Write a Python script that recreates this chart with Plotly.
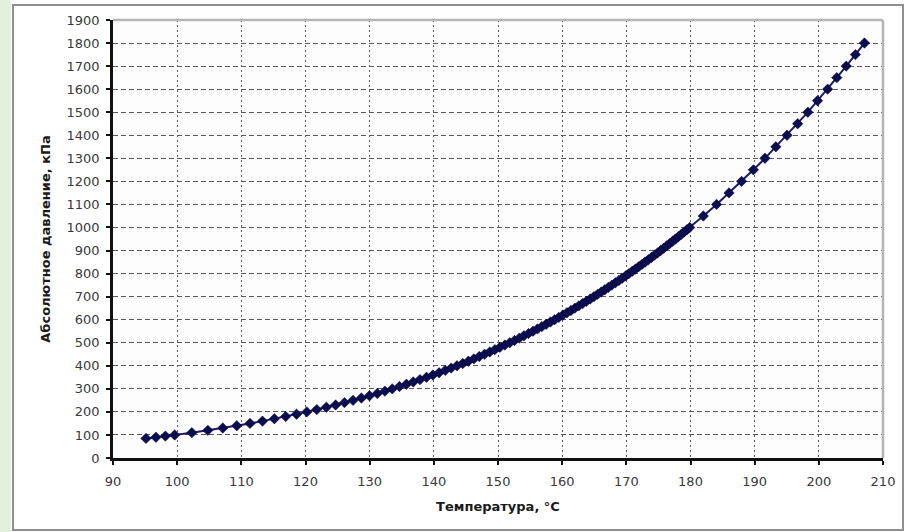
import plotly.graph_objects as go

# Saturated steam: absolute pressure (kPa) vs temperature (°C)
pressure_kpa = [85, 90, 95, 100,
                110, 120, 130, 140, 150, 160, 170, 180, 190, 200,
                210, 220, 230, 240, 250, 260, 270, 280, 290, 300,
                310, 320, 330, 340, 350, 360, 370, 380, 390, 400,
                410, 420, 430, 440, 450, 460, 470, 480, 490, 500,
                510, 520, 530, 540, 550, 560, 570, 580, 590, 600,
                610, 620, 630, 640, 650, 660, 670, 680, 690, 700,
                710, 720, 730, 740, 750, 760, 770, 780, 790, 800,
                810, 820, 830, 840, 850, 860, 870, 880, 890, 900,
                910, 920, 930, 940, 950, 960, 970, 980, 990, 1000,
                1050, 1100, 1150, 1200, 1250, 1300, 1350, 1400, 1450, 1500,
                1550, 1600, 1650, 1700, 1750, 1800]

temperature_c = [95.14, 96.69, 98.17, 99.61,
                 102.29, 104.78, 107.11, 109.29, 111.35, 113.30, 115.15, 116.91, 118.60, 120.21,
                 121.76, 123.25, 124.69, 126.07, 127.41, 128.71, 129.97, 131.19, 132.37, 133.52,
                 134.64, 135.73, 136.79, 137.84, 138.86, 139.85, 140.82, 141.77, 142.70, 143.61,
                 144.51, 145.38, 146.24, 147.08, 147.90, 148.71, 149.51, 150.29, 151.07, 151.83,
                 152.58, 153.32, 154.04, 154.76, 155.46, 156.15, 156.83, 157.50, 158.17, 158.83,
                 159.48, 160.12, 160.75, 161.37, 161.98, 162.59, 163.19, 163.78, 164.37, 164.95,
                 165.52, 166.09, 166.65, 167.20, 167.75, 168.29, 168.83, 169.36, 169.89, 170.41,
                 170.93, 171.44, 171.94, 172.44, 172.94, 173.43, 173.92, 174.40, 174.88, 175.35,
                 175.82, 176.29, 176.75, 177.21, 177.66, 178.11, 178.56, 179.00, 179.44, 179.88,
                 182.00, 184.06, 186.00, 187.96, 189.80, 191.60, 193.30, 195.04, 196.70, 198.29,
                 199.80, 201.37, 202.80, 204.27, 205.70, 207.11]

x_title = "Температура, °С"
y_title = "Абсолютное давление, кПа"

fig = go.Figure()
fig.add_trace(go.Scatter(
    x=temperature_c, y=pressure_kpa,
    mode="lines+markers",
    line=dict(color="#1a1a70", width=2),
    marker=dict(symbol="diamond", size=8, color="#0c0c50",
                line=dict(color="#000030", width=0.5)),
    showlegend=False,
))

font_family = "DejaVu Sans, Verdana, sans-serif"

# plot area: x 113..883 px, y 20..458 px
W, H = 770, 438
def px(x):
    return (x - 113) / W
def py(y):
    return (458 - y) / H

fig.update_layout(
    width=913, height=532,
    margin=dict(l=113, r=30, t=20, b=74),
    paper_bgcolor="white",
    plot_bgcolor="#fdfdfd",
    font=dict(family=font_family, size=13, color="#333333"),
    xaxis=dict(
        range=[90, 210], dtick=10, tick0=90,
        showgrid=True, gridcolor="#5a5a5a", gridwidth=1.3, griddash="2px,3px",
        showline=True, linecolor="#111111", linewidth=2.5, mirror=False,
        ticks="outside", ticklen=4, tickcolor="#111111", tickwidth=2,
        ticklabelstandoff=6,
        tickfont=dict(family=font_family, size=13, color="#3a3a3a"),
        zeroline=False,
        title=dict(text=f"<b>{x_title}</b>", font=dict(family=font_family, size=13, color="#1a1a1a"), standoff=14),
    ),
    yaxis=dict(
        range=[0, 1900], dtick=100, tick0=0,
        showgrid=True, gridcolor="#5a5a5a", gridwidth=1.3, griddash="5px,3px",
        showline=True, linecolor="#111111", linewidth=2.5, mirror=False,
        ticks="outside", ticklen=4, tickcolor="#111111", tickwidth=2,
        ticklabelstandoff=4,
        tickfont=dict(family=font_family, size=13, color="#3a3a3a"),
        zeroline=False,
        title=dict(text=f"<b>{y_title}</b>", font=dict(family=font_family, size=13, color="#1a1a1a"), standoff=14),
    ),
    shapes=[
        # light green strip at left edge
        dict(type="rect", xref="paper", yref="paper", x0=px(0), x1=px(11),
             y0=py(532), y1=py(0), fillcolor="#e2f2da", line=dict(width=0), layer="below"),
        # outer chart frame
        dict(type="rect", xref="paper", yref="paper", x0=px(13), x1=px(903),
             y0=py(530), y1=py(5), line=dict(color="#8f8f8f", width=2),
             fillcolor="rgba(0,0,0,0)", layer="below"),
        # plot-area border (top/right in gray)
        dict(type="line", xref="paper", yref="paper", x0=0, x1=1, y0=1, y1=1,
             line=dict(color="#b5b5b5", width=2.5)),
        dict(type="line", xref="paper", yref="paper", x0=1, x1=1, y0=0, y1=1,
             line=dict(color="#b5b5b5", width=2.5)),
    ],
)

fig.write_html("out.html", config={"displayModeBar": False},
               post_script="document.body.style.margin='0';")
